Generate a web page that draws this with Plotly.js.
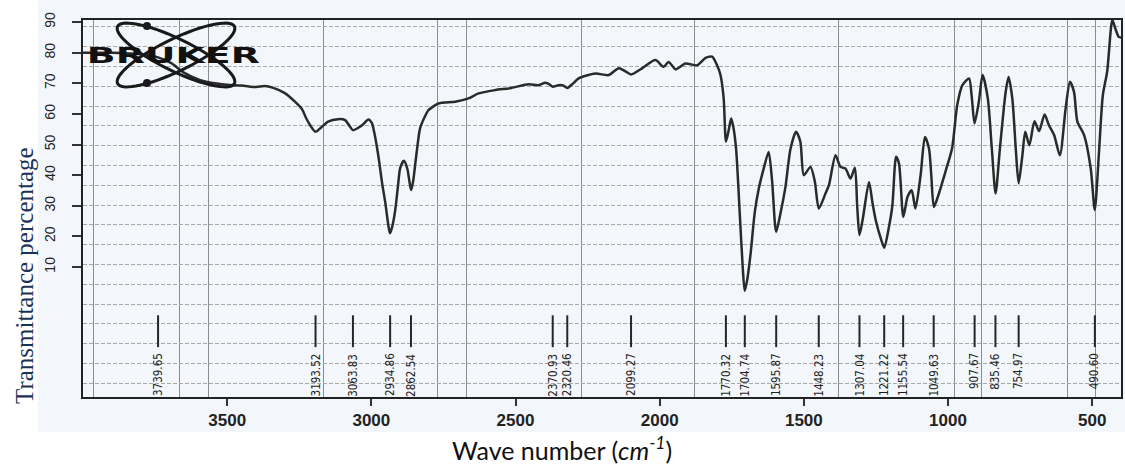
<!DOCTYPE html>
<html>
<head>
<meta charset="utf-8">
<script src="https://cdn.plot.ly/plotly-3.0.1.min.js"></script>
<style>html,body{margin:0;padding:0;background:#fff;}#chart{width:1125px;height:469px;}</style>
</head>
<body>
<div id="chart"></div>
<script>
// ---- data ----
const wavenumber = [4000,3900,3800,3740,3694,3650,3600,3560,3542,3500,3450,3400,3370,3340,3300,3265,3240,3226,3210,3194,3175,3150,3115,3091,3075,3064,3045,3030,3010,2998,2990,2976,2962,2952,2940,2935,2928,2918,2908,2900,2887,2875,2868,2862,2855,2844,2831,2815,2802,2767,2709,2663,2628,2570,2514,2455,2420,2397,2385,2371,2351,2335,2320,2300,2281,2223,2177,2142,2120,2099,2061,2015,1986,1969,1945,1911,1870,1841,1818,1801,1789,1778,1770,1760,1752,1745,1735,1722,1712,1705,1696,1685,1670,1656,1639,1622,1610,1596,1580,1564,1546,1527,1512,1500,1477,1462,1448,1425,1413,1390,1373,1356,1338,1323,1315,1307,1295,1274,1262,1250,1232,1221,1205,1193,1180,1170,1155,1140,1126,1113,1095,1080,1066,1058,1049,1035,1009,986,968,950,927,918,908,893,880,862,848,835,820,800,790,777,765,755,742,732,718,700,684,665,650,632,612,592,577,563,551,528,505,491,477,463,448,430,420,408,400];
const transmittance = [80,80,79.5,78.5,76.6,73.5,71.3,70.3,70,69.5,69.3,68.8,69.1,68.5,66.8,64,61.5,58.6,56,54.2,55.5,57.5,58.3,58,56,54.7,55.5,56.5,58.2,57,54,46.5,37,31.3,23,21,23,28,36,42.3,44.7,42,38,35.1,38,46.5,55.3,59,61.2,63.4,64,65.1,66.7,67.8,68.5,69.7,69.4,70.2,69.8,68.9,69.4,69.3,68.5,70,71.6,73.2,72.7,74.9,74,72.9,74.9,77.6,75.4,77,74.6,76.5,75.9,78.3,78.7,75.9,72.7,65.1,51,55,58.5,56,48.7,27,10,2.2,6,14,28,35.7,42.2,47.6,38,21.5,28,36,48.7,54.2,50.9,40,42.7,38,29.1,34,36.7,46.5,42.7,42.2,38.9,42.4,30,20.4,26,37.8,31,25,19,16.3,23,30,46,43.8,26.4,33,35.1,29.1,40,52.5,48.7,40,29.6,33,41.1,48.7,62.9,69.4,71.6,66,56.9,64,72.7,65.1,48.7,34,48.7,67.2,72.1,65.1,48.7,37.3,46.5,54.2,49.8,57.6,54.4,59.8,56.3,53.1,46.5,61.8,70.5,67.2,57.4,53.1,42.2,28.6,46.5,66.1,73.8,90.7,88,85.2,85];
const peakWavenumbers = [3739.65,3193.52,3063.83,2934.86,2862.54,2370.93,2320.46,2099.27,1770.32,1704.74,1595.87,1448.23,1307.04,1221.22,1155.54,1049.63,907.67,835.46,754.97,490.60];
const peakLabels = ['3739.65','3193.52','3063.83','2934.86','2862.54','2370.93','2320.46','2099.27','1770.32','1704.74','1595.87','1448.23','1307.04','1221.22','1155.54','1049.63','907.67','835.46','754.97','490.60'];
const xTickValues = [3500,3000,2500,2000,1500,1000,500];
const yTickValues = [10,20,30,40,50,60,70,80,90];
const gridWavenumbers = [3962,3665,3566,3167,2769,2670,2271,1878,1380,979,884,587,488];
const peakMarkTop = -5.8, peakMarkBottom = -16.2, peakLabelTop = -17.6;

// ---- layout geometry ----
const W = 1125, H = 469, M = {l:83, r:4, t:20, b:72};
const PW = W - M.l - M.r, PH = H - M.t - M.b;
const px = x => (x - M.l) / PW;
const py = y => (H - M.b - y) / PH;

// peak marker segments
const segX = [], segY = [];
peakWavenumbers.forEach(v => { segX.push(v, v, null); segY.push(peakMarkTop, peakMarkBottom, null); });

const traces = [
  {x: wavenumber, y: transmittance, type: 'scatter', mode: 'lines',
   line: {color: '#2a2a2a', width: 2.5, shape: 'spline', smoothing: 0.7}, hoverinfo: 'skip'},
  {x: segX, y: segY, type: 'scatter', mode: 'lines',
   line: {color: '#262626', width: 2}, hoverinfo: 'skip'}
];

const annotations = peakWavenumbers.map((v, i) => ({
  x: v, y: peakLabelTop, xref: 'x', yref: 'y', text: peakLabels[i], showarrow: false,
  textangle: -90, xanchor: 'center', yanchor: 'top',
  font: {family: 'Liberation Sans Narrow, DejaVu Sans Condensed, Liberation Sans', size: 11.5, color: '#1e1e1e'}
}));
annotations.push({
  x: px(562), y: py(448), xref: 'paper', yref: 'paper', showarrow: false,
  text: 'Wave number (<i>cm</i><sup><i>-1</i></sup>)', xanchor: 'center', yanchor: 'middle',
  font: {family: 'Lato, Open Sans, sans-serif', size: 25, color: '#111'}
});
annotations.push({
  x: px(24), y: py(276), xref: 'paper', yref: 'paper', showarrow: false, textangle: -90,
  text: 'Transmittance percentage', xanchor: 'center', yanchor: 'middle',
  font: {family: 'Liberation Serif, Times New Roman, serif', size: 25, color: '#1c3358'}
});
annotations.push({
  x: px(173), y: py(55), xref: 'paper', yref: 'paper', showarrow: false,
  text: '<b>BRUKER</b>', xanchor: 'center', yanchor: 'middle',
  font: {family: 'DejaVu Sans, Liberation Sans', size: 22, color: '#111'}
});

// logo ellipses (decoration)
function ellipsePath(cx, cy, a, b, angDeg) {
  const ang = angDeg * Math.PI / 180; let d = '';
  for (let k = 0; k <= 72; k++) {
    const t = k / 72 * 2 * Math.PI;
    const ex = a * Math.cos(t), ey = b * Math.sin(t);
    const X = cx + ex * Math.cos(ang) - ey * Math.sin(ang);
    const Y = cy + ex * Math.sin(ang) + ey * Math.cos(ang);
    d += (k === 0 ? 'M' : 'L') + px(X).toFixed(5) + ',' + py(Y).toFixed(5);
  }
  return d + 'Z';
}
const shapes = [
  {type: 'rect', xref: 'paper', yref: 'paper', x0: px(38), x1: px(1125), y0: py(432), y1: py(0),
   fillcolor: '#f3f6fa', line: {width: 0}, layer: 'below'},
  {type: 'path', xref: 'paper', yref: 'paper', path: ellipsePath(176, 55, 65, 16, 26),
   line: {color: '#1a1a1a', width: 3}},
  {type: 'path', xref: 'paper', yref: 'paper', path: ellipsePath(176, 55, 65, 16, -26),
   line: {color: '#1a1a1a', width: 3}},
  {type: 'circle', xref: 'paper', yref: 'paper', x0: px(143), x1: px(151), y0: py(30), y1: py(22),
   fillcolor: '#1a1a1a', line: {width: 0}},
  {type: 'circle', xref: 'paper', yref: 'paper', x0: px(143), x1: px(151), y0: py(87), y1: py(79),
   fillcolor: '#1a1a1a', line: {width: 0}}
];

const layout = {
  width: W, height: H, margin: M, showlegend: false,
  paper_bgcolor: '#ffffff', plot_bgcolor: 'rgba(0,0,0,0)',
  xaxis: {range: [4000, 400], tickmode: 'array', tickvals: xTickValues, ticks: 'outside', ticklen: 7,
    tickwidth: 2, tickcolor: '#333', showgrid: false, zeroline: false, showline: true, mirror: true,
    linecolor: '#222', linewidth: 2,
    tickfont: {family: 'Liberation Sans, Arial', size: 17, weight: 'bold', color: '#222'},
    minor: {tickmode: 'array', tickvals: gridWavenumbers, showgrid: true, gridcolor: '#8c8c8c', gridwidth: 1, ticks: ''}},
  yaxis: {range: [-32.5, 90.7], tickmode: 'array', tickvals: yTickValues, ticks: 'outside', ticklen: 9,
    tickwidth: 2, tickcolor: '#333', tickangle: -90, showgrid: false, zeroline: false, showline: true,
    mirror: true, linecolor: '#222', linewidth: 2, ticklabelstandoff: 11,
    tickfont: {family: 'Liberation Sans, Arial', size: 14, color: '#222'},
    minor: {tickmode: 'linear', tick0: 88.46, dtick: 6.47, showgrid: true, gridcolor: '#a8a8a8',
      gridwidth: 1, griddash: '4px,2px', ticks: ''}},
  annotations: annotations, shapes: shapes
};

Plotly.newPlot('chart', traces, layout, {staticPlot: true}).then(() => {
  document.querySelectorAll('text.annotation-text').forEach(t => {
    if (t.textContent === 'BRUKER') {
      t.setAttribute('textLength', '173');
      t.setAttribute('lengthAdjust', 'spacingAndGlyphs');
    }
  });
});
</script>
</body>
</html>
